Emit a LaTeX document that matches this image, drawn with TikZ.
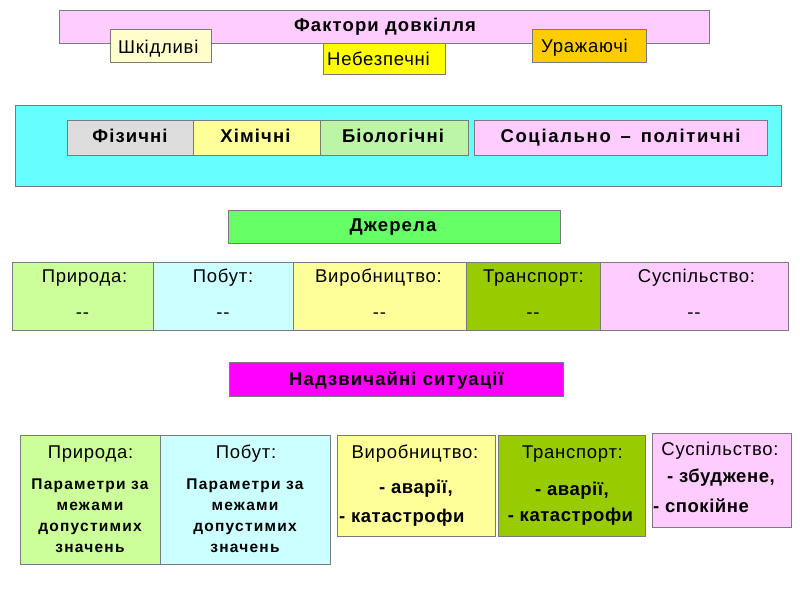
\documentclass[tikz,border=0pt]{standalone}
\usepackage{fontspec}
\setmainfont{Liberation Sans}
\definecolor{bord}{HTML}{7A7A7A}
\definecolor{cpink}{HTML}{FFCCFF}
\definecolor{ccream}{HTML}{FFFFCC}
\definecolor{cyel}{HTML}{FFFF00}
\definecolor{corange}{HTML}{FFCC00}
\definecolor{ccyan}{HTML}{66FFFF}
\definecolor{cgrey}{HTML}{DDDDDD}
\definecolor{clyel}{HTML}{FFFF99}
\definecolor{clgreen}{HTML}{BDF5A8}
\definecolor{cgreen}{HTML}{66FF66}
\definecolor{cnat}{HTML}{CCFF99}
\definecolor{clcyan}{HTML}{CCFFFF}
\definecolor{colive}{HTML}{99CC00}
\definecolor{cmag}{HTML}{FF00FF}
\newcommand\rbox[6]{\node[box, fill=#6, minimum width={#4-#2}, minimum height={#5-#3}] (#1) at ({(#2+#4)/2},{(#3+#5)/2}) {};}
\tikzset{
  box/.style={draw=bord, line width=0.8pt, inner sep=0pt, outer sep=0pt},
  rt/.style={inner sep=0pt, anchor=base, font=\fontsize{18.5}{22}\selectfont\addfontfeatures{LetterSpace=4}},
  bt/.style={inner sep=0pt, anchor=base, font=\bfseries\fontsize{18.5}{22}\selectfont\addfontfeatures{LetterSpace=6}},
  bbt/.style={inner sep=0pt, anchor=base, font=\bfseries\fontsize{18.5}{22}\selectfont\addfontfeatures{LetterSpace=3}},
  st/.style={inner sep=0pt, anchor=base, font=\bfseries\fontsize{15.5}{21}\selectfont\addfontfeatures{LetterSpace=8}},
}
\begin{document}
\begin{tikzpicture}[x=1pt,y=-1pt]
\useasboundingbox (0,0) rectangle (800,600);
% top
\rbox{fd}{59}{10}{709}{43}{cpink}
\node[bt] (fdt) at (385,31) {Фактори довкілля};
\rbox{shk}{110}{29}{211}{62}{ccream}
\node[rt, anchor=base west] (shkt) at (118,53) {Шкідливі};
\rbox{neb}{323}{43}{445}{74}{cyel}
\node[rt, anchor=base west] (nebt) at (327,65) {Небезпечні};
\rbox{ur}{532}{29}{646}{62}{corange}
\node[rt, anchor=base west] (urt) at (541,52) {Уражаючі};
% types
\rbox{cy}{15}{105}{781}{186}{ccyan}
\rbox{fiz}{67}{120}{193}{155}{cgrey}
\node[bt] (fizt) at (130,142) {Фізичні};
\rbox{him}{193}{120}{320}{155}{clyel}
\node[bt] (himt) at (255.5,142) {Хімічні};
\rbox{bio}{320}{120}{468}{155}{clgreen}
\node[bt] (biot) at (393,142) {Біологічні};
\rbox{soc}{474}{120}{767}{155}{cpink}
\node[bt, font=\bfseries\fontsize{18.5}{22}\selectfont\addfontfeatures{LetterSpace=9}] (soct) at (620.5,142) {Соціально\hspace{3pt} – \hspace{3pt}політичні};
% sources
\rbox{dj}{228}{210}{560}{243}{cgreen}
\node[bt] (djt) at (393,231) {Джерела};
\rbox{s1}{12}{262}{153}{330}{cnat}
\rbox{s2}{153}{262}{293}{330}{clcyan}
\rbox{s3}{293}{262}{466}{330}{clyel}
\rbox{s4}{466}{262}{600}{330}{colive}
\rbox{s5}{600}{262}{788}{330}{cpink}
\node[rt] (s1a) at (84.5,282) {Природа:};
\node[rt] (s1b) at (82.5,318) {-{}-};
\node[rt] (s2a) at (223,282) {Побут:};
\node[rt] (s2b) at (223,318) {-{}-};
\node[rt] (s3a) at (378.5,282) {Виробництво:};
\node[rt] (s3b) at (379.5,318) {-{}-};
\node[rt] (s4a) at (533.5,282) {Транспорт:};
\node[rt] (s4b) at (533,318) {-{}-};
\node[rt] (s5a) at (696.5,282) {Суспільство:};
\node[rt] (s5b) at (694,318) {-{}-};
% emergencies
\rbox{ns}{229}{362}{563}{396}{cmag}
\node[bt] (nst) at (396.5,385) {Надзвичайні ситуації};
\rbox{e1}{20}{435}{160}{564}{cnat}
\rbox{e2}{160}{435}{330}{564}{clcyan}
\rbox{e3}{337}{435}{495}{536}{clyel}
\rbox{e4}{498}{435}{645}{536}{colive}
\rbox{e5}{652}{433}{791}{527}{cpink}
\node[rt] (e1a) at (90.5,458) {Природа:};
\node[st] (e1b) at (90,489) {Параметри за};
\node[st] (e1c) at (90,510) {межами};
\node[st] (e1d) at (90,531) {допустимих};
\node[st] (e1e) at (90,552) {значень};
\node[rt] (e2a) at (246,458) {Побут:};
\node[st] (e2b) at (245,489) {Параметри за};
\node[st] (e2c) at (245,510) {межами};
\node[st] (e2d) at (245,531) {допустимих};
\node[st] (e2e) at (245,552) {значень};
\node[rt] (e3a) at (415,458) {Виробництво:};
\node[bbt] (e3b) at (416,493) {- аварії,};
\node[bbt, anchor=base west] (e3c) at (339,522) {- катастрофи};
\node[rt] (e4a) at (572.5,458) {Транспорт:};
\node[bbt] (e4b) at (572,495) {- аварії,};
\node[bbt] (e4c) at (570.5,521) {- катастрофи};
\node[rt] (e5a) at (720,455) {Суспільство:};
\node[bbt] (e5b) at (721,482) {- збуджене,};
\node[bbt, anchor=base west] (e5c) at (653,512) {- спокійне};
\end{tikzpicture}
\end{document}
